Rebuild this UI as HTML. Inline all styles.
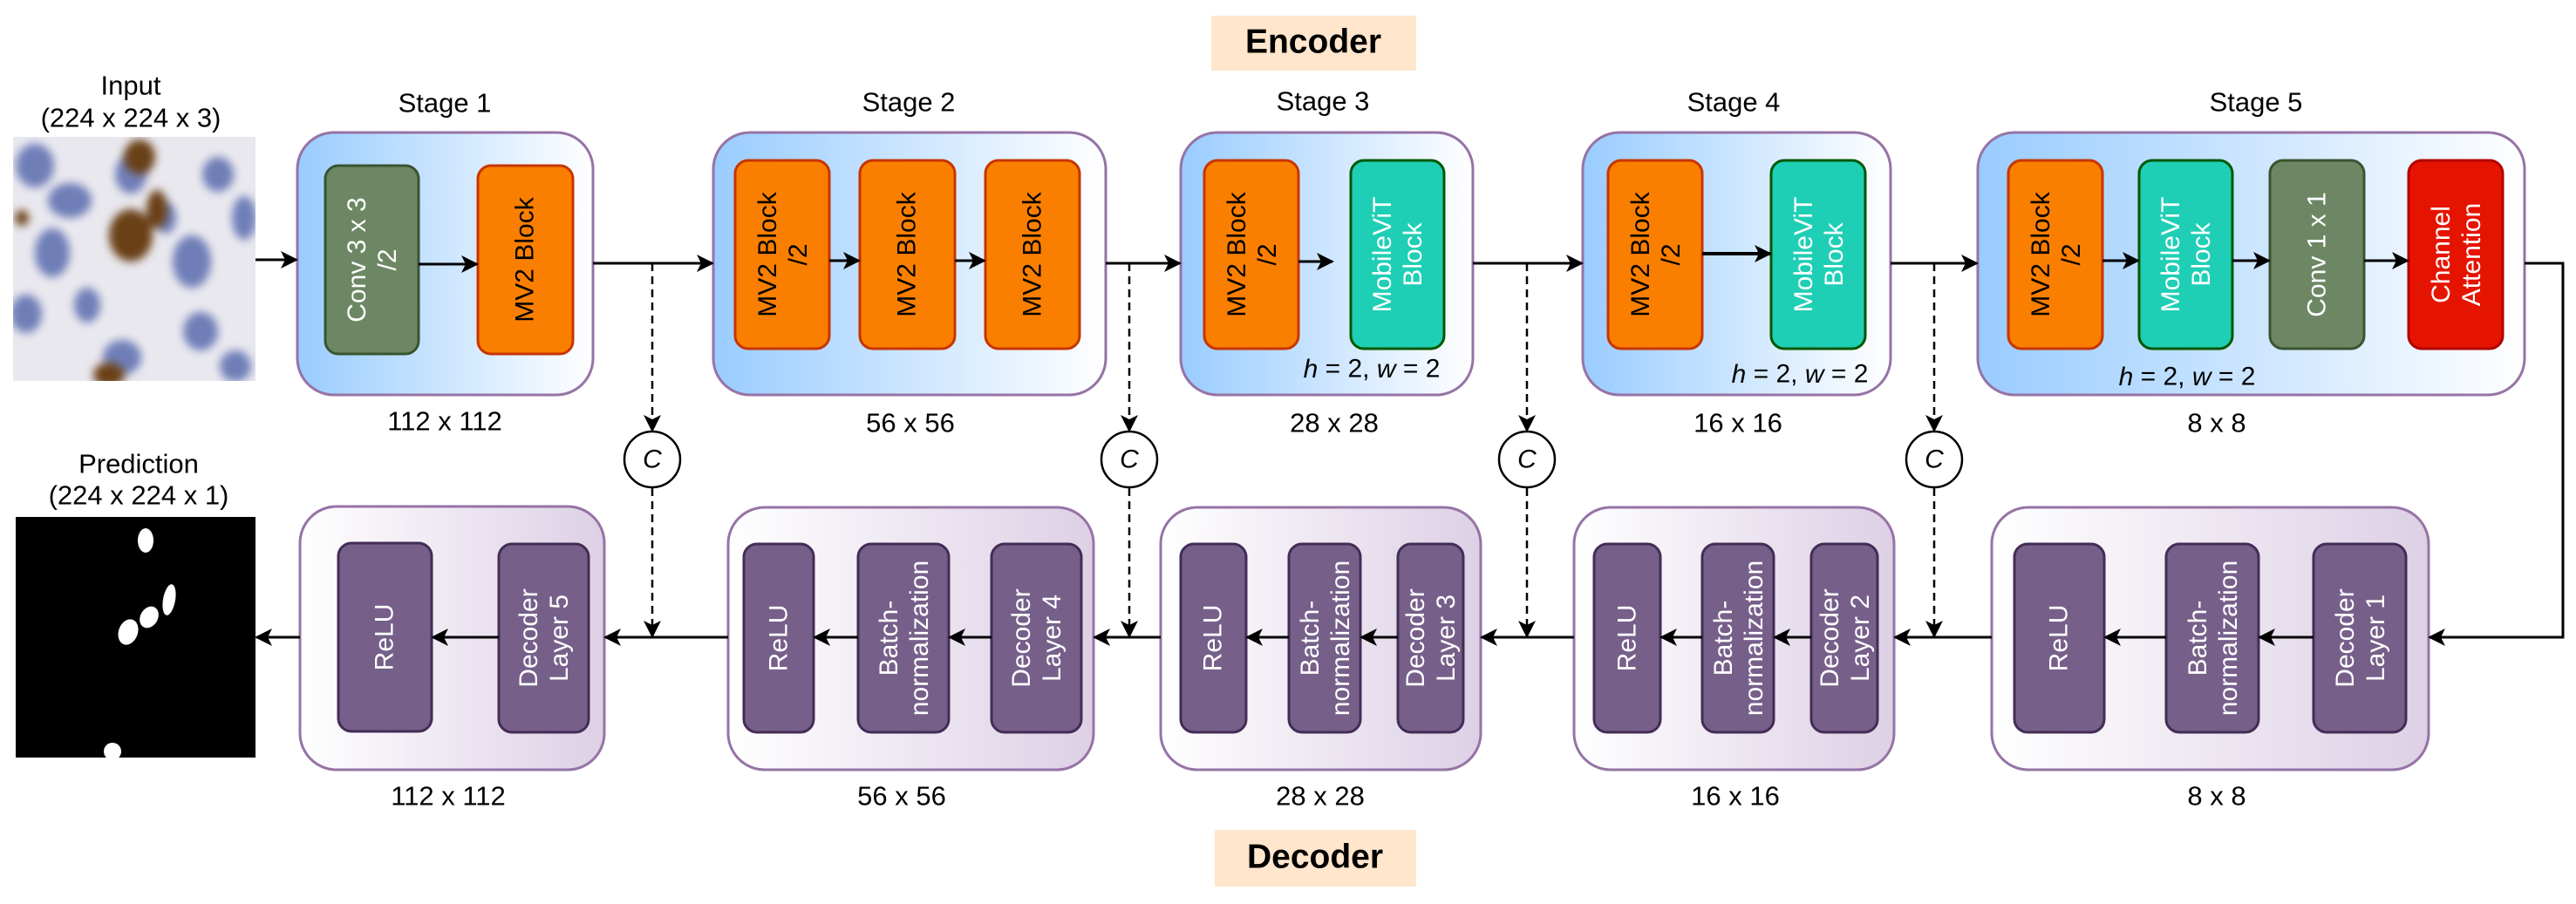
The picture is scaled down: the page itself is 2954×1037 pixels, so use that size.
<!DOCTYPE html>
<html><head><meta charset="utf-8"><style>
html,body{margin:0;padding:0;background:#fff;}
svg{display:block;}
text{font-family:"Liberation Sans",Arial,sans-serif;}
</style></head><body>
<svg width="2954" height="1037" viewBox="0 0 2954 1037" xmlns="http://www.w3.org/2000/svg">
<defs>
<linearGradient id="enc" x1="0" y1="0" x2="1" y2="0"><stop offset="0" stop-color="#99ccff"/><stop offset="1" stop-color="#ffffff"/></linearGradient>
<linearGradient id="dec" x1="0" y1="0" x2="1" y2="0"><stop offset="0" stop-color="#ffffff"/><stop offset="1" stop-color="#ddd0e5"/></linearGradient>
<marker id="ah" viewBox="0 0 20 20" refX="18" refY="10" markerWidth="20" markerHeight="20" markerUnits="userSpaceOnUse" orient="auto"><path d="M0,0 L20,10 L0,20 L5,10 Z" fill="#000"/></marker>
<filter id="bl"><feGaussianBlur stdDeviation="5"/></filter>
<clipPath id="inclip"><rect x="15" y="157" width="278" height="280"/></clipPath>
</defs>

<rect x="1389" y="18" width="235" height="63" fill="#ffe6cc"/>
<text x="1506" y="48" font-size="39" font-weight="bold" text-anchor="middle" dominant-baseline="central">Encoder</text>
<rect x="1393" y="952" width="231" height="65" fill="#ffe6cc"/>
<text x="1508" y="983" font-size="39" font-weight="bold" text-anchor="middle" dominant-baseline="central">Decoder</text>

<g font-size="31" text-anchor="middle" dominant-baseline="central">
<text x="150" y="98">Input</text>
<text x="150" y="135">(224 x 224 x 3)</text>
<text x="159" y="532">Prediction</text>
<text x="159" y="568">(224 x 224 x 1)</text>
<text x="510" y="118">Stage 1</text>
<text x="1042" y="117">Stage 2</text>
<text x="1517" y="116">Stage 3</text>
<text x="1988" y="117">Stage 4</text>
<text x="2587" y="117">Stage 5</text>
<text x="510" y="483">112 x 112</text>
<text x="1044" y="485">56 x 56</text>
<text x="1530" y="485">28 x 28</text>
<text x="1993" y="485">16 x 16</text>
<text x="2542" y="485">8 x 8</text>
<text x="514" y="913">112 x 112</text>
<text x="1034" y="913">56 x 56</text>
<text x="1514" y="913">28 x 28</text>
<text x="1990" y="913">16 x 16</text>
<text x="2542" y="913">8 x 8</text>
</g>

<g clip-path="url(#inclip)">
<rect x="15" y="157" width="278" height="280" fill="#e9e8ef"/>
<g filter="url(#bl)" fill="#5a6cae" opacity="0.85">
<ellipse cx="40" cy="190" rx="22" ry="25"/><ellipse cx="80" cy="230" rx="25" ry="20"/>
<ellipse cx="60" cy="290" rx="20" ry="28"/><ellipse cx="150" cy="200" rx="18" ry="22"/>
<ellipse cx="220" cy="300" rx="22" ry="30"/><ellipse cx="250" cy="200" rx="18" ry="20"/>
<ellipse cx="30" cy="360" rx="18" ry="22"/><ellipse cx="140" cy="410" rx="22" ry="20"/>
<ellipse cx="230" cy="380" rx="20" ry="22"/><ellipse cx="280" cy="250" rx="14" ry="25"/>
<ellipse cx="100" cy="350" rx="15" ry="20"/><ellipse cx="270" cy="420" rx="18" ry="18"/>
<ellipse cx="190" cy="250" rx="12" ry="18"/>
</g>
<g filter="url(#bl)" fill="#6b3f15">
<ellipse cx="160" cy="180" rx="18" ry="20"/><ellipse cx="150" cy="270" rx="25" ry="30"/>
<ellipse cx="180" cy="240" rx="12" ry="22"/><ellipse cx="25" cy="250" rx="8" ry="9"/>
<ellipse cx="125" cy="430" rx="18" ry="14"/>
</g>
</g>

<rect x="18" y="593" width="275" height="276" fill="#000"/>
<g fill="#fff">
<ellipse cx="167" cy="620" rx="9" ry="14"/>
<ellipse cx="194" cy="688" rx="7" ry="18" transform="rotate(10 194 688)"/>
<ellipse cx="171" cy="708" rx="10" ry="13" transform="rotate(30 171 708)"/>
<ellipse cx="147" cy="725" rx="11" ry="15" transform="rotate(20 147 725)"/>
<ellipse cx="129" cy="862" rx="10" ry="10"/>
</g>

<g fill="url(#enc)" stroke="#9673a6" stroke-width="3">
<rect x="341" y="152" width="339" height="301" rx="42"/>
<rect x="818" y="152" width="450" height="301" rx="42"/>
<rect x="1354" y="152" width="335" height="301" rx="42"/>
<rect x="1815" y="152" width="353" height="301" rx="42"/>
<rect x="2268" y="152" width="627" height="301" rx="42"/>
</g>
<g fill="url(#dec)" stroke="#9673a6" stroke-width="3">
<rect x="344" y="581" width="349" height="302" rx="42"/>
<rect x="835" y="582" width="419" height="301" rx="42"/>
<rect x="1331" y="582" width="367" height="301" rx="42"/>
<rect x="1805" y="582" width="367" height="301" rx="42"/>
<rect x="2284" y="582" width="501" height="301" rx="42"/>
</g>

<g stroke-width="3">
<rect x="373" y="190" width="107" height="216" rx="15" fill="#6d8764" stroke="#3a5431"/>
<rect x="548" y="190" width="109" height="216" rx="15" fill="#fa7f00" stroke="#c73500"/>
<rect x="843" y="184" width="108" height="216" rx="15" fill="#fa7f00" stroke="#c73500"/>
<rect x="986" y="184" width="109" height="216" rx="15" fill="#fa7f00" stroke="#c73500"/>
<rect x="1130" y="184" width="108" height="216" rx="15" fill="#fa7f00" stroke="#c73500"/>
<rect x="1381" y="184" width="108" height="216" rx="15" fill="#fa7f00" stroke="#c73500"/>
<rect x="1549" y="184" width="107" height="216" rx="15" fill="#1fcfb5" stroke="#005700"/>
<rect x="1844" y="184" width="108" height="216" rx="15" fill="#fa7f00" stroke="#c73500"/>
<rect x="2031" y="184" width="108" height="216" rx="15" fill="#1fcfb5" stroke="#005700"/>
<rect x="2303" y="184" width="108" height="216" rx="15" fill="#fa7f00" stroke="#c73500"/>
<rect x="2453" y="184" width="107" height="216" rx="15" fill="#1fcfb5" stroke="#005700"/>
<rect x="2603" y="184" width="108" height="216" rx="15" fill="#6d8764" stroke="#3a5431"/>
<rect x="2762" y="184" width="108" height="216" rx="15" fill="#e51400" stroke="#b20000"/>
</g>
<g stroke-width="3" fill="#76608a" stroke="#432d57">
<rect x="388" y="623" width="107" height="216" rx="15"/>
<rect x="572" y="624" width="103" height="216" rx="15"/>
<rect x="853" y="624" width="80" height="216" rx="15"/>
<rect x="984" y="624" width="104" height="216" rx="15"/>
<rect x="1137" y="624" width="103" height="216" rx="15"/>
<rect x="1354" y="624" width="75" height="216" rx="15"/>
<rect x="1478" y="624" width="82" height="216" rx="15"/>
<rect x="1603" y="624" width="75" height="216" rx="15"/>
<rect x="1828" y="624" width="76" height="216" rx="15"/>
<rect x="1952" y="624" width="82" height="216" rx="15"/>
<rect x="2077" y="624" width="76" height="216" rx="15"/>
<rect x="2310" y="624" width="103" height="216" rx="15"/>
<rect x="2484" y="624" width="106" height="216" rx="15"/>
<rect x="2653" y="624" width="106" height="216" rx="15"/>
</g>

<g font-size="30" text-anchor="middle" dominant-baseline="central">
<text transform="translate(426,298) rotate(-90)" fill="#fff"><tspan x="0" dy="-17">Conv 3 x 3</tspan><tspan x="0" dy="35">/2</tspan></text>
<text transform="translate(602,298) rotate(-90)" fill="#000">MV2 Block</text>
<text transform="translate(897,292) rotate(-90)"><tspan x="0" dy="-17">MV2 Block</tspan><tspan x="0" dy="35">/2</tspan></text>
<text transform="translate(1040,292) rotate(-90)">MV2 Block</text>
<text transform="translate(1184,292) rotate(-90)">MV2 Block</text>
<text transform="translate(1435,292) rotate(-90)"><tspan x="0" dy="-17">MV2 Block</tspan><tspan x="0" dy="35">/2</tspan></text>
<text transform="translate(1602,292) rotate(-90)" fill="#fff"><tspan x="0" dy="-17">MobileViT</tspan><tspan x="0" dy="35">Block</tspan></text>
<text transform="translate(1898,292) rotate(-90)"><tspan x="0" dy="-17">MV2 Block</tspan><tspan x="0" dy="35">/2</tspan></text>
<text transform="translate(2085,292) rotate(-90)" fill="#fff"><tspan x="0" dy="-17">MobileViT</tspan><tspan x="0" dy="35">Block</tspan></text>
<text transform="translate(2357,292) rotate(-90)"><tspan x="0" dy="-17">MV2 Block</tspan><tspan x="0" dy="35">/2</tspan></text>
<text transform="translate(2506,292) rotate(-90)" fill="#fff"><tspan x="0" dy="-17">MobileViT</tspan><tspan x="0" dy="35">Block</tspan></text>
<text transform="translate(2657,292) rotate(-90)" fill="#fff">Conv 1 x 1</text>
<text transform="translate(2816,292) rotate(-90)" fill="#fff"><tspan x="0" dy="-17">Channel</tspan><tspan x="0" dy="35">Attention</tspan></text>
</g>
<g font-size="30" text-anchor="middle" dominant-baseline="central" fill="#fff">
<text transform="translate(441,731) rotate(-90)">ReLU</text>
<text transform="translate(623,732) rotate(-90)"><tspan x="0" dy="-17">Decoder</tspan><tspan x="0" dy="35">Layer 5</tspan></text>
<text transform="translate(893,732) rotate(-90)">ReLU</text>
<text transform="translate(1036,732) rotate(-90)"><tspan x="0" dy="-17">Batch-</tspan><tspan x="0" dy="35">normalization</tspan></text>
<text transform="translate(1188,732) rotate(-90)"><tspan x="0" dy="-17">Decoder</tspan><tspan x="0" dy="35">Layer 4</tspan></text>
<text transform="translate(1391,732) rotate(-90)">ReLU</text>
<text transform="translate(1519,732) rotate(-90)"><tspan x="0" dy="-17">Batch-</tspan><tspan x="0" dy="35">normalization</tspan></text>
<text transform="translate(1640,732) rotate(-90)"><tspan x="0" dy="-17">Decoder</tspan><tspan x="0" dy="35">Layer 3</tspan></text>
<text transform="translate(1866,732) rotate(-90)">ReLU</text>
<text transform="translate(1993,732) rotate(-90)"><tspan x="0" dy="-17">Batch-</tspan><tspan x="0" dy="35">normalization</tspan></text>
<text transform="translate(2115,732) rotate(-90)"><tspan x="0" dy="-17">Decoder</tspan><tspan x="0" dy="35">Layer 2</tspan></text>
<text transform="translate(2361,732) rotate(-90)">ReLU</text>
<text transform="translate(2537,732) rotate(-90)"><tspan x="0" dy="-17">Batch-</tspan><tspan x="0" dy="35">normalization</tspan></text>
<text transform="translate(2706,732) rotate(-90)"><tspan x="0" dy="-17">Decoder</tspan><tspan x="0" dy="35">Layer 1</tspan></text>
</g>

<g font-size="30" text-anchor="middle" dominant-baseline="central">
<text x="1573" y="423"><tspan font-style="italic">h</tspan> = 2, <tspan font-style="italic">w</tspan> = 2</text>
<text x="2064" y="429"><tspan font-style="italic">h</tspan> = 2, <tspan font-style="italic">w</tspan> = 2</text>
<text x="2508" y="432"><tspan font-style="italic">h</tspan> = 2, <tspan font-style="italic">w</tspan> = 2</text>
</g>

<g stroke="#000" stroke-width="3" fill="none" marker-end="url(#ah)">
<line x1="293" y1="298" x2="340" y2="298"/>
<line x1="480" y1="303" x2="547" y2="303"/>
<line x1="680" y1="302" x2="817" y2="302"/>
<line x1="951" y1="299" x2="985" y2="299"/>
<line x1="1095" y1="299" x2="1129" y2="299"/>
<line x1="1268" y1="302" x2="1353" y2="302"/>
<line x1="1489" y1="300" x2="1528" y2="300"/>
<line x1="1689" y1="302" x2="1814" y2="302"/>
<line x1="1952" y1="291" x2="2030" y2="291" stroke-width="4"/>
<line x1="2168" y1="302" x2="2267" y2="302"/>
<line x1="2411" y1="299" x2="2452" y2="299"/>
<line x1="2560" y1="299" x2="2602" y2="299"/>
<line x1="2711" y1="299" x2="2761" y2="299"/>
<polyline points="2895,302 2939,302 2939,731 2786,731"/>
<line x1="2653" y1="731" x2="2591" y2="731"/>
<line x1="2484" y1="731" x2="2414" y2="731"/>
<line x1="2284" y1="731" x2="2173" y2="731"/>
<line x1="2077" y1="731" x2="2035" y2="731"/>
<line x1="1952" y1="731" x2="1905" y2="731"/>
<line x1="1805" y1="731" x2="1699" y2="731"/>
<line x1="1603" y1="731" x2="1561" y2="731"/>
<line x1="1478" y1="731" x2="1430" y2="731"/>
<line x1="1331" y1="731" x2="1255" y2="731"/>
<line x1="1137" y1="731" x2="1089" y2="731"/>
<line x1="984" y1="731" x2="934" y2="731"/>
<line x1="835" y1="731" x2="694" y2="731"/>
<line x1="572" y1="731" x2="496" y2="731"/>
<line x1="344" y1="731" x2="294" y2="731"/>
</g>

<g stroke="#000" stroke-width="2.5" fill="none" stroke-dasharray="9,6" marker-end="url(#ah)">
<line x1="748" y1="302" x2="748" y2="494"/>
<line x1="748" y1="560" x2="748" y2="730"/>
<line x1="1295" y1="302" x2="1295" y2="494"/>
<line x1="1295" y1="560" x2="1295" y2="730"/>
<line x1="1751" y1="302" x2="1751" y2="494"/>
<line x1="1751" y1="560" x2="1751" y2="730"/>
<line x1="2218" y1="302" x2="2218" y2="494"/>
<line x1="2218" y1="560" x2="2218" y2="730"/>
</g>
<g fill="#fff" stroke="#000" stroke-width="2.5">
<circle cx="748" cy="527" r="32"/><circle cx="1295" cy="527" r="32"/>
<circle cx="1751" cy="527" r="32"/><circle cx="2218" cy="527" r="32"/>
</g>
<g font-size="30" font-style="italic" text-anchor="middle" dominant-baseline="central">
<text x="748" y="527">C</text><text x="1295" y="527">C</text>
<text x="1751" y="527">C</text><text x="2218" y="527">C</text>
</g>
</svg>
</body></html>
